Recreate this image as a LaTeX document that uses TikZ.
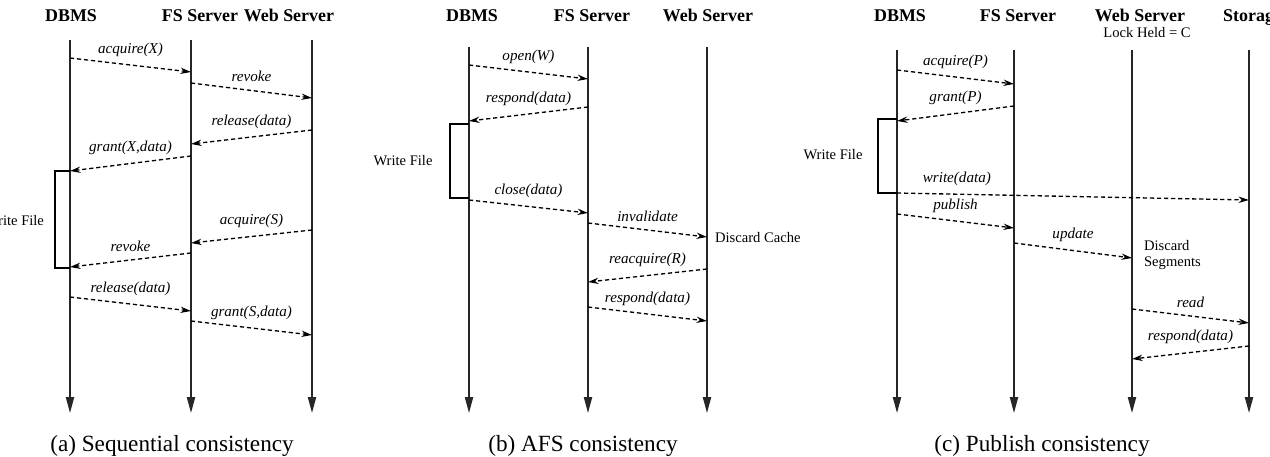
\documentclass[tikz,border=0pt]{standalone}
\usepackage{fontspec}
\setmainfont{Liberation Serif}
\usepackage{tikz}
\usetikzlibrary{arrows.meta, positioning}
\tikzset{
    lifeline/.style={line width=0.9pt, draw=black!85, -{Triangle[length=9pt, width=4.6pt]}},
    msg/.style={line width=0.75pt, dash pattern=on 2.4pt off 1.6pt, -{Stealth[length=6pt, width=3.6pt]}},
    procname/.style={font=\fontsize{10.2}{12}\selectfont\bfseries, anchor=base},
    msglabel/.style={font=\fontsize{8.6}{10}\selectfont\itshape, inner sep=1pt, above=3.5pt},
    note/.style={font=\fontsize{8.3}{8.8}\selectfont, inner sep=1pt},
    bracket/.style={line width=0.7pt},
    subcaption/.style={font=\fontsize{13.2}{15}\selectfont, anchor=base},
}

\begin{document}
\begin{tikzpicture}[x=0.02cm, y=-0.02cm]
\useasboundingbox (0,0) rectangle (1270,456);

% === (a) SEQUENTIAL CONSISTENCY ===
\node[procname] (dbAh) at (71,21.5) {DBMS};
\node[procname] (fsAh) at (200,21.5) {FS Server};
\node[procname] (webAh) at (289,21.5) {Web Server};
\coordinate (dbA) at (70,40);
\coordinate (fsA) at (191,40);
\coordinate (webA) at (312,40);
\draw[lifeline] (dbA) -- (dbA |- 0,413);
\draw[lifeline] (fsA) -- (fsA |- 0,413);
\draw[lifeline] (webA) -- (webA |- 0,413);

\draw[msg] (dbA |- 0,58) -- node[msglabel] {acquire(X)} (fsA |- 0,72);
\draw[msg] (fsA |- 0,83) -- node[msglabel] {revoke} (webA |- 0,98);
\draw[msg] (webA |- 0,130) -- node[msglabel] {release(data)} (fsA |- 0,144);
\draw[msg] (fsA |- 0,156) -- node[msglabel] {grant(X,data)} (dbA |- 0,171);
\draw[msg] (webA |- 0,230) -- node[msglabel] {acquire(S)} (fsA |- 0,243);
\draw[msg] (fsA |- 0,253) -- node[msglabel] {revoke} (dbA |- 0,267);
\draw[msg] (dbA |- 0,297) -- node[msglabel] {release(data)} (fsA |- 0,311);
\draw[msg] (fsA |- 0,321) -- node[msglabel] {grant(S,data)} (webA |- 0,335);

% write window
\coordinate (brA) at (55,220);
\draw[bracket] (dbA |- 0,171) -| (brA) |- (dbA |- 0,268);
\node[note] (wfA) at (14.5,221) {Write File};

\node[subcaption] (capA) at (172,451) {(a) Sequential consistency};

% === (b) AFS CONSISTENCY ===
\node[procname] (dbBh) at (472,21.5) {DBMS};
\node[procname] (fsBh) at (592,21.5) {FS Server};
\node[procname] (webBh) at (708,21.5) {Web Server};
\coordinate (dbB) at (469,47);
\coordinate (fsB) at (588,47);
\coordinate (webB) at (707,47);
\draw[lifeline] (dbB) -- (dbB |- 0,413);
\draw[lifeline] (fsB) -- (fsB |- 0,413);
\draw[lifeline] (webB) -- (webB |- 0,413);

\draw[msg] (dbB |- 0,65) -- node[msglabel] {open(W)} (fsB |- 0,79);
\draw[msg] (fsB |- 0,107) -- node[msglabel] {respond(data)} (dbB |- 0,121);
\draw[msg] (dbB |- 0,200) -- node[msglabel] {close(data)} (fsB |- 0,213);
\draw[msg] (fsB |- 0,223) -- node[msglabel] {invalidate} (webB |- 0,237);
\draw[msg] (webB |- 0,269) -- node[msglabel] {reacquire(R)} (fsB |- 0,282);
\draw[msg] (fsB |- 0,307) -- node[msglabel] {respond(data)} (webB |- 0,321);

% write window
\coordinate (brB) at (450,160);
\draw[bracket] (dbB |- 0,124) -| (brB) |- (dbB |- 0,198);
\node[note] (wfB) at (403,161) {Write File};
\node[note, anchor=west] (dcB) at (713,238) {Discard Cache};

\node[subcaption] (capB) at (583,451) {(b) AFS consistency};

% === (c) PUBLISH CONSISTENCY ===
\node[procname] (dbCh) at (900,21.5) {DBMS};
\node[procname] (fsCh) at (1018,21.5) {FS Server};
\node[procname] (webCh) at (1140,21.5) {Web Server};
\node[procname, anchor=base west] (stCh) at (1217,21.5) {Storage};
\node[note, anchor=base] (lockC) at (1147,37.5) {Lock Held = C};
\coordinate (dbC) at (897,50);
\coordinate (fsC) at (1014,50);
\coordinate (webC) at (1132,50);
\coordinate (stC) at (1249,50);
\draw[lifeline] (dbC) -- (dbC |- 0,413);
\draw[lifeline] (fsC) -- (fsC |- 0,413);
\draw[lifeline] (webC) -- (webC |- 0,413);
\draw[lifeline] (stC) -- (stC |- 0,413);

\draw[msg] (dbC |- 0,70) -- node[msglabel] {acquire(P)} (fsC |- 0,84);
\draw[msg] (fsC |- 0,106) -- node[msglabel] {grant(P)} (dbC |- 0,121);
\draw[msg] (dbC |- 0,193) -- node[msglabel, pos=0.17] {write(data)} (stC |- 0,200);
\draw[msg] (dbC |- 0,214) -- node[msglabel] {publish} (fsC |- 0,228);
\draw[msg] (fsC |- 0,243) -- node[msglabel] {update} (webC |- 0,258);
\draw[msg] (webC |- 0,309) -- node[msglabel] {read} (stC |- 0,323);
\draw[msg] (stC |- 0,346) -- node[msglabel] {respond(data)} (webC |- 0,359);

% write window
\coordinate (brC) at (878,155);
\draw[bracket] (dbC |- 0,119) -| (brC) |- (dbC |- 0,193);
\node[note] (wfC) at (833,155) {Write File};
\node[note, anchor=west, align=left] (dsC) at (1142,255) {Discard\\Segments};

\node[subcaption] (capC) at (1042,451) {(c) Publish consistency};

\end{tikzpicture}
\end{document}
